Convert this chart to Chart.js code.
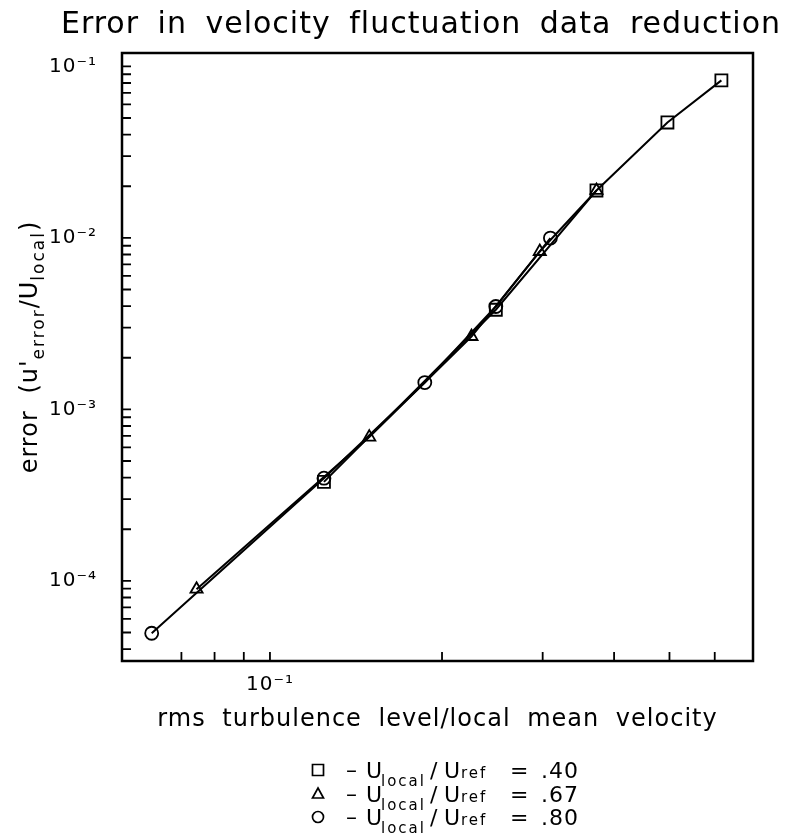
<!DOCTYPE html>
<html>
<head>
<meta charset="utf-8">
<script src="https://cdn.jsdelivr.net/npm/chart.js@4/dist/chart.umd.min.js"></script>
<style>
  html, body { margin: 0; padding: 0; background: #fff; }
</style>
</head>
<body>
<canvas id="chart" width="788" height="838"></canvas>
<script>
// --- dados (log-log) ---
const xSquare = [0.1243, 0.2484, 0.3726, 0.4959, 0.6163];
const ySquare = [3.78e-4, 3.81e-3, 0.0189, 0.0471, 0.0829];

const xTriangle = [0.0744, 0.1492, 0.2252, 0.2965, 0.3726];
const yTriangle = [8.94e-5, 6.89e-4, 2.66e-3, 8.33e-3, 0.0189];

const xCircle = [0.0621, 0.1243, 0.1866, 0.2484, 0.3095];
const yCircle = [4.95e-5, 3.97e-4, 1.434e-3, 3.98e-3, 9.98e-3];

const legendValues = ['.40', '.67', '.80'];
const pointStyles = ['rect', 'triangle', 'circle'];

const xRange = [0.0551, 0.70];
const yRange = [3.41e-5, 0.1197];

const titleText = 'Error in velocity fluctuation data reduction';
const xTitleText = 'rms turbulence level/local mean velocity';

const FONT = '"DejaVu Sans", sans-serif';

// 10^n com sobrescrito unicode
const SUP = { '-': '\u207B', '0': '\u2070', '1': '\u00B9', '2': '\u00B2', '3': '\u00B3', '4': '\u2074', '5': '\u2075', '6': '\u2076', '7': '\u2077', '8': '\u2078', '9': '\u2079' };
function decadeLabel(v) {
    const e = Math.log10(v);
    if (Math.abs(e - Math.round(e)) > 1e-6) return '';
    return '10' + String(Math.round(e)).split('').map(c => SUP[c]).join('');
}

function toPoints(xs, ys) {
    return xs.map((x, i) => ({ x: x, y: ys[i] }));
}

// espaçamento de texto parecido com a fonte Hershey do original
const textSpacing = {
    id: 'textSpacing',
    beforeDraw(chart) {
        chart.ctx.letterSpacing = '1px';
        chart.ctx.wordSpacing = '8px';
    }
};

// ticks internos + moldura
const innerTicks = {
    id: 'innerTicks',
    afterDraw(chart) {
        const { ctx, chartArea: a, scales: { x, y } } = chart;
        const nice = v => {
            const m = v / Math.pow(10, Math.floor(Math.log10(v) + 1e-9));
            return Math.abs(m - Math.round(m)) < 1e-6;
        };
        ctx.save();
        ctx.strokeStyle = '#000';
        ctx.lineWidth = 1.8;
        ctx.beginPath();
        y.ticks.forEach(t => {
            if (!nice(t.value)) return;
            const py = y.getPixelForValue(t.value);
            if (py < a.top + 2 || py > a.bottom - 2) return;
            ctx.moveTo(a.left, py);
            ctx.lineTo(a.left + 9, py);
        });
        x.ticks.forEach(t => {
            if (!nice(t.value)) return;
            const px = x.getPixelForValue(t.value);
            if (px < a.left + 2 || px > a.right - 2) return;
            ctx.moveTo(px, a.bottom);
            ctx.lineTo(px, a.bottom - 9);
        });
        ctx.stroke();
        ctx.lineWidth = 2.5;
        ctx.strokeRect(a.left, a.top, a.right - a.left, a.bottom - a.top);
        ctx.restore();
    }
};

function drawSymbol(ctx, style, cx, cy, s) {
    ctx.beginPath();
    if (style === 'rect') {
        ctx.rect(cx - s / 2, cy - s / 2, s, s);
    } else if (style === 'triangle') {
        ctx.moveTo(cx, cy - s / 2);
        ctx.lineTo(cx + s / 2, cy + s / 2 - 1);
        ctx.lineTo(cx - s / 2, cy + s / 2 - 1);
        ctx.closePath();
    } else {
        ctx.arc(cx, cy, s / 2, 0, Math.PI * 2);
    }
    ctx.stroke();
}

// título, rótulo do eixo y (com subscritos) e legenda
const extraText = {
    id: 'extraText',
    afterDraw(chart) {
        const ctx = chart.ctx;
        ctx.save();
        ctx.fillStyle = '#000';
        ctx.strokeStyle = '#000';
        ctx.letterSpacing = '1px';
        ctx.wordSpacing = '8px';

        // título
        ctx.font = `30px ${FONT}`;
        ctx.textAlign = 'center';
        ctx.textBaseline = 'alphabetic';
        ctx.fillText(titleText, 421, 33);

        // eixo y: error (u'error/Ulocal)
        const big = `24px ${FONT}`, small = `17px ${FONT}`;
        const parts = [
            { t: "error (u'", f: big, dy: 0, ls: '1px' },
            { t: 'error', f: small, dy: 7, ls: '2px' },
            { t: '/U', f: big, dy: 0, ls: '1px' },
            { t: 'local', f: small, dy: 7, ls: '2px' },
            { t: ')', f: big, dy: 0, ls: '1px' }
        ];
        let total = 0;
        parts.forEach(p => {
            ctx.font = p.f;
            ctx.letterSpacing = p.ls;
            p.w = ctx.measureText(p.t).width;
            total += p.w;
        });
        ctx.translate(37, 347);
        ctx.rotate(-Math.PI / 2);
        ctx.textAlign = 'left';
        let cx = -total / 2;
        parts.forEach(p => {
            ctx.font = p.f;
            ctx.letterSpacing = p.ls;
            ctx.fillText(p.t, cx, p.dy);
            cx += p.w;
        });
        ctx.setTransform(1, 0, 0, 1, 0, 0);
        ctx.letterSpacing = '1px';

        // legenda
        ctx.lineWidth = 1.7;
        legendValues.forEach((val, i) => {
            const by = 778 + i * 23.5;
            drawSymbol(ctx, pointStyles[i], 318, by - 8, 11);
            ctx.textAlign = 'center';
            ctx.font = `22px ${FONT}`;
            ctx.fillText('\u2013', 352, by - 1);
            ctx.textAlign = 'left';
            ctx.fillText('U', 366, by);
            ctx.fillText('/', 430, by);
            ctx.fillText('U', 444, by);
            ctx.fillText('=', 510, by);
            ctx.fillText(val, 541, by);
            ctx.font = `15px ${FONT}`;
            ctx.letterSpacing = '2px';
            ctx.fillText('local', 381, by + 8);
            ctx.fillText('ref', 461, by);
            ctx.letterSpacing = '1px';
        });
        ctx.restore();
    }
};

const lineDataset = (label, xs, ys, style, radius) => ({
    label: label,
    data: toPoints(xs, ys),
    showLine: true,
    borderColor: '#000',
    borderWidth: 2,
    pointStyle: style,
    pointRadius: radius,
    pointBorderColor: '#000',
    pointBorderWidth: 1.8,
    pointBackgroundColor: 'rgba(0,0,0,0)',
    tension: 0
});

new Chart(document.getElementById('chart'), {
    type: 'scatter',
    data: {
        datasets: [
            lineDataset('Ulocal/Uref = .40', xSquare, ySquare, 'rect', 8.5),
            lineDataset('Ulocal/Uref = .67', xTriangle, yTriangle, 'triangle', 7),
            lineDataset('Ulocal/Uref = .80', xCircle, yCircle, 'circle', 6.5)
        ]
    },
    options: {
        responsive: false,
        animation: false,
        layout: { padding: { top: 53, right: 35, left: 0, bottom: 0 } },
        plugins: {
            legend: { display: false },
            title: { display: false },
            tooltip: { enabled: false }
        },
        scales: {
            x: {
                type: 'logarithmic',
                min: xRange[0],
                max: xRange[1],
                grid: { display: false, drawTicks: false },
                border: { display: false },
                ticks: {
                    autoSkip: false,
                    maxRotation: 0,
                    padding: 12,
                    color: '#000',
                    font: { family: FONT, size: 20 },
                    callback: v => decadeLabel(v)
                },
                title: {
                    display: true,
                    text: xTitleText,
                    color: '#000',
                    font: { family: FONT, size: 24 },
                    padding: { top: 0, bottom: 104 }
                },
                afterFit: s => { s.height = 177; }
            },
            y: {
                type: 'logarithmic',
                min: yRange[0],
                max: yRange[1],
                grid: { display: false, drawTicks: false },
                border: { display: false },
                ticks: {
                    autoSkip: false,
                    padding: 25,
                    color: '#000',
                    font: { family: FONT, size: 20 },
                    callback: v => decadeLabel(v)
                },
                afterFit: s => { s.width = 122; }
            }
        }
    },
    plugins: [textSpacing, innerTicks, extraText]
});
</script>
</body>
</html>
